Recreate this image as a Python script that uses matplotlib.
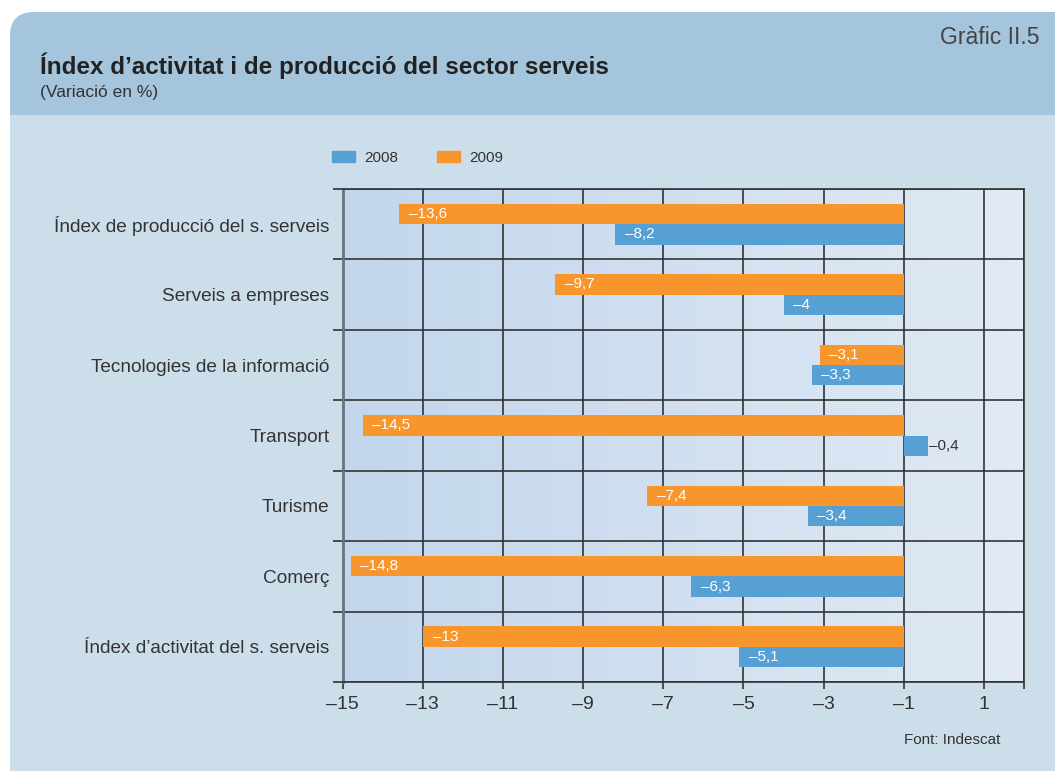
import matplotlib.pyplot as plt
import matplotlib.patches as mpatches
import matplotlib.transforms as mtransforms
from matplotlib.colors import LinearSegmentedColormap
import numpy as np

plt.rcParams['font.family'] = ['Liberation Sans', 'DejaVu Sans']

categories = ["Índex de producció del s. serveis", "Serveis a empreses",
              "Tecnologies de la informació", "Transport", "Turisme",
              "Comerç", "Índex d’activitat del s. serveis"]
v2008 = [-8.2, -4, -3.3, -0.4, -3.4, -6.3, -5.1]
v2009 = [-13.6, -9.7, -3.1, -14.5, -7.4, -14.8, -13]
xticks = [-15, -13, -11, -9, -7, -5, -3, -1, 1]

BLUE = '#56a0d4'
ORANGE = '#f8962e'
TXT = '#333333'
base = -1  # the value axis crosses at -1, bars start there

W, H = 1055, 771
fig = plt.figure(figsize=(W / 100, H / 100), dpi=100)
fig.patch.set_facecolor('white')

# card background with header band
px = mtransforms.IdentityTransform()
fig.patches.append(mpatches.FancyBboxPatch(
    (10, 620), 1100, H - 12 - 620, boxstyle="round,pad=0,rounding_size=24",
    transform=px, facecolor='#a5c5dc', edgecolor='none', zorder=-2))
fig.patches.append(mpatches.Rectangle(
    (10, -20), 1100, H - 115 + 20, transform=px,
    facecolor='#cddeeb', edgecolor='none', zorder=-1))

fig.text(40 / W, 1 - 66 / H, "Índex d’activitat i de producció del sector serveis",
         fontsize=17.5, fontweight='bold', color='#222222', va='center', ha='left')
fig.text(40 / W, 1 - 92 / H, "(Variació en %)", fontsize=12.5, color=TXT,
         va='center', ha='left')
fig.text(1040 / W, 1 - 37 / H, "Gràfic II.5", fontsize=16.5, color='#444444',
         va='center', ha='right')
fig.text(1000 / W, 1 - 740 / H, "Font: Indescat", fontsize=11, color=TXT,
         va='center', ha='right')

ax = fig.add_axes([342.7 / W, 1 - 682 / H, (1024 - 342.7) / W, (682 - 189) / H])
ax.set_xlim(-15, 2)
ax.set_ylim(6.5, -0.5)

# horizontal gradient in the plotting area
grad = LinearSegmentedColormap.from_list('bg', ['#c2d6ec', '#e1eaf5'])
ax.imshow(np.linspace(0, 1, 256).reshape(1, -1), cmap=grad, aspect='auto',
          extent=(-15, 2, 6.5, -0.5), zorder=0)

y = np.arange(len(categories))
h = 0.29
ax.barh(y - h / 2, np.array(v2009) - base, left=base, height=h,
        color=ORANGE, label='2009', zorder=3)
ax.barh(y + h / 2, np.array(v2008) - base, left=base, height=h,
        color=BLUE, label='2008', zorder=3)


def fmt(v):
    return f"{v:g}".replace('.', ',').replace('-', '\u2013')


for yy, vals in ((y - h / 2, v2009), (y + h / 2, v2008)):
    for yi, v in zip(yy, vals):
        if v < base:
            ax.annotate(fmt(v), (v, yi), xytext=(7, 0), textcoords='offset points',
                        ha='left', va='center', color='white', fontsize=11, zorder=4)
        else:
            ax.annotate(fmt(v), (v, yi), xytext=(1, 0), textcoords='offset points',
                        ha='left', va='center', color=TXT, fontsize=11, zorder=4)

ax.set_xticks(xticks)
ax.set_xticklabels([fmt(t) for t in xticks])
ax.set_xticks([2], minor=True)
ax.set_yticks(y)
ax.set_yticklabels(categories)
ax.set_yticks(np.arange(-0.5, len(categories)), minor=True)
ax.tick_params(axis='y', which='major', length=0, pad=9.5, labelsize=13.7,
               labelcolor=TXT)
ax.tick_params(axis='y', which='minor', length=7, width=1.2, color='#333333')
ax.tick_params(axis='x', which='both', length=5, width=1.2, color='#333333',
               pad=5, labelsize=14, labelcolor=TXT)
ax.grid(axis='x', which='both', color='#333333', linewidth=1.2, zorder=1)
ax.grid(axis='y', which='minor', color='#333333', linewidth=1.2, zorder=1)
ax.grid(axis='y', which='major', visible=False)
ax.set_axisbelow(True)
for side in ('top', 'bottom', 'right'):
    ax.spines[side].set_color('#333333')
    ax.spines[side].set_linewidth(1.2)
ax.spines['left'].set_color('#6a7480')
ax.spines['left'].set_linewidth(2)

handles = [mpatches.Patch(color=BLUE), mpatches.Patch(color=ORANGE)]
fig.legend(handles, ['2008', '2009'], loc='center left',
           bbox_to_anchor=(318 / W, 1 - 158 / H), ncol=2, frameon=False,
           fontsize=11, handlelength=1.5, handleheight=0.7, handletextpad=0.65,
           columnspacing=2.5, labelcolor=TXT)

fig.savefig('out.png', dpi=100)
